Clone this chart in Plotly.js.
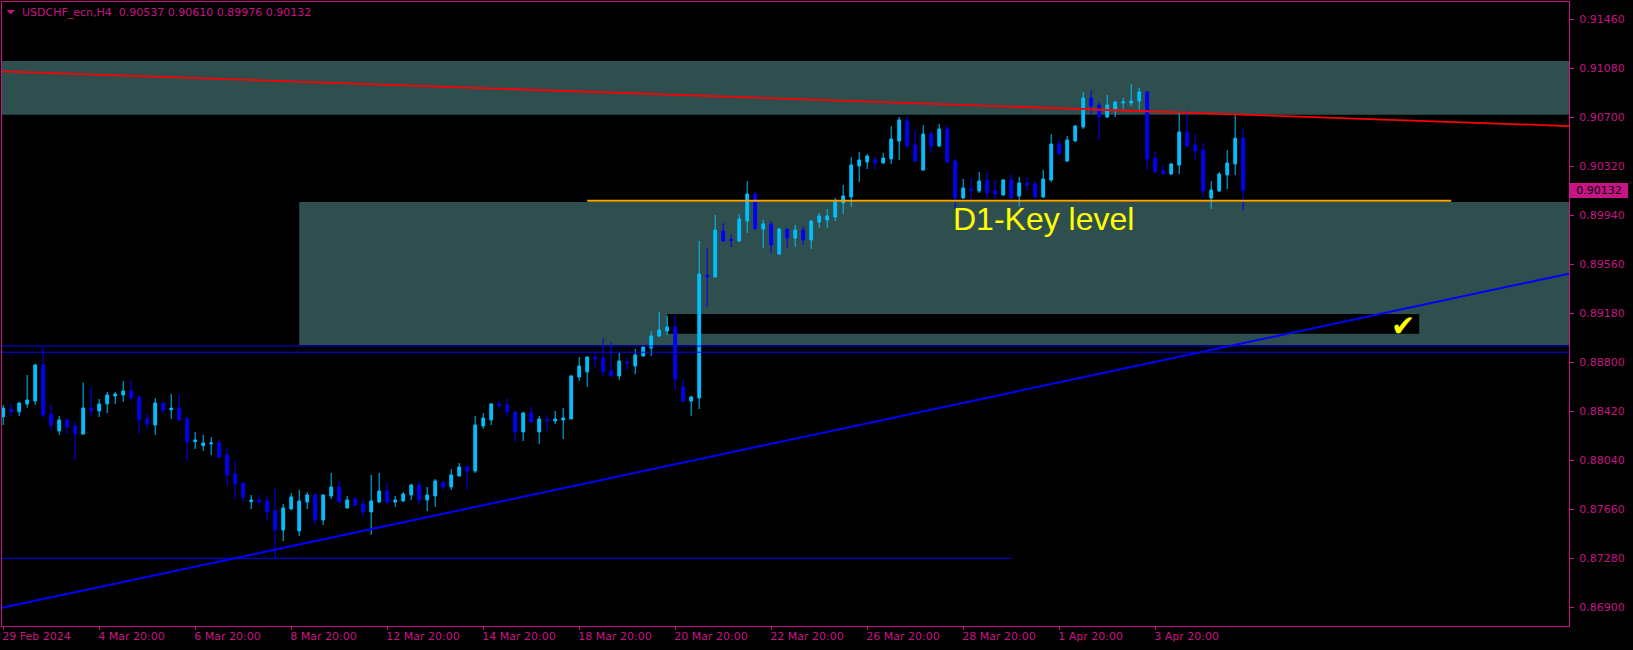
<!DOCTYPE html>
<html>
<head>
<meta charset="utf-8">
<script src="https://cdn.plot.ly/plotly-3.0.1.min.js"></script>
<style>html,body{margin:0;padding:0;background:#000;}#chart{width:1633px;height:650px;}</style>
</head>
<body>
<div id="chart"></div>
<script>
// ---- data (USDCHF_ecn, H4) ----
const dateLabels = ["29 Feb 2024","4 Mar 20:00","6 Mar 20:00","8 Mar 20:00","12 Mar 20:00","14 Mar 20:00","18 Mar 20:00","20 Mar 20:00","22 Mar 20:00","26 Mar 20:00","28 Mar 20:00","1 Apr 20:00","3 Apr 20:00"];
const priceTicks = [0.86900,0.87280,0.87660,0.88040,0.88420,0.88800,0.89180,0.89560,0.89940,0.90320,0.90700,0.91080,0.91460];

const open = [0.88378,0.88436,0.88417,0.88477,0.88500,0.88779,0.88399,0.88268,0.88353,0.88306,
0.88244,0.88446,0.88423,0.88477,0.88539,0.88547,0.88578,0.88531,0.88361,0.88314,
0.88485,0.88433,0.88446,0.88361,0.88185,0.88154,0.88169,0.88175,0.88082,0.87934,
0.87865,0.87720,0.87733,0.87725,0.87648,0.87500,0.87663,0.87493,0.87717,0.87772,
0.87578,0.87764,0.87834,0.87671,0.87741,0.87702,0.87640,0.87717,0.87803,0.87717,
0.87725,0.87772,0.87849,0.87733,0.87764,0.87872,0.87834,0.87919,0.87989,0.87958,
0.88306,0.88353,0.88477,0.88469,0.88415,0.88260,0.88407,0.88260,0.88355,0.88345,
0.88353,0.88361,0.88686,0.88725,0.88839,0.88833,0.88733,0.88694,0.88802,0.88771,
0.88849,0.88911,0.89004,0.89043,0.89074,0.88609,0.88500,0.88523,0.89474,0.89461,
0.89818,0.89753,0.89740,0.89895,0.90104,0.89833,0.89872,0.89639,0.89833,0.89763,
0.89825,0.89748,0.89887,0.89903,0.89926,0.90035,0.90081,0.90321,0.90352,0.90368,
0.90345,0.90376,0.90515,0.90670,0.90484,0.90290,0.90569,0.90476,0.90608,0.90360,
0.90073,0.90143,0.90128,0.90213,0.90128,0.90097,0.90213,0.90089,0.90190,0.90182,
0.90081,0.90213,0.90492,0.90360,0.90515,0.90624,0.90848,0.90794,0.90701,0.90763,
0.90810,0.90810,0.90825,0.90895,0.90383,0.90283,0.90259,0.90329,0.90585,0.90484,
0.90445,0.90073,0.90128,0.90252,0.90337,0.90537];

const high = [0.88469,0.88482,0.88490,0.88702,0.88787,0.88921,0.88477,0.88384,0.88366,0.88337,
0.88642,0.88609,0.88516,0.88570,0.88570,0.88655,0.88663,0.88547,0.88407,0.88523,
0.88492,0.88554,0.88554,0.88384,0.88260,0.88237,0.88221,0.88198,0.88136,0.88035,
0.87868,0.87772,0.87772,0.87764,0.87826,0.87702,0.87787,0.87810,0.87793,0.87777,
0.87775,0.87942,0.87880,0.87764,0.87756,0.87733,0.87927,0.87942,0.87865,0.87764,
0.87795,0.87857,0.87880,0.87834,0.87896,0.87875,0.87973,0.88020,0.87996,0.88384,
0.88407,0.88485,0.88500,0.88523,0.88423,0.88415,0.88454,0.88384,0.88392,0.88423,
0.88446,0.88702,0.88841,0.88845,0.88872,0.88988,0.88957,0.88872,0.88833,0.88903,
0.88926,0.89043,0.89190,0.89159,0.89167,0.88671,0.88539,0.89740,0.89686,0.89942,
0.89880,0.89794,0.89949,0.90205,0.90120,0.89903,0.89895,0.89841,0.89836,0.89864,
0.89856,0.89903,0.89957,0.89988,0.90073,0.90174,0.90391,0.90430,0.90414,0.90391,
0.90422,0.90631,0.90701,0.90709,0.90600,0.90639,0.90593,0.90647,0.90639,0.90376,
0.90221,0.90228,0.90275,0.90275,0.90213,0.90221,0.90259,0.90236,0.90236,0.90205,
0.90290,0.90569,0.90531,0.90554,0.90639,0.90895,0.90910,0.90817,0.90872,0.90825,
0.90848,0.90957,0.90926,0.90903,0.90430,0.90329,0.90345,0.90740,0.90748,0.90569,
0.90500,0.90205,0.90275,0.90445,0.90717,0.90610];

const low = [0.88314,0.88384,0.88384,0.88448,0.88469,0.88371,0.88275,0.88237,0.88244,0.88043,
0.88240,0.88384,0.88376,0.88407,0.88477,0.88492,0.88502,0.88244,0.88291,0.88237,
0.88399,0.88361,0.88345,0.88035,0.88128,0.88113,0.88082,0.88058,0.87841,0.87741,
0.87717,0.87663,0.87694,0.87570,0.87281,0.87415,0.87655,0.87454,0.87663,0.87539,
0.87539,0.87741,0.87714,0.87668,0.87686,0.87601,0.87462,0.87710,0.87702,0.87679,
0.87717,0.87733,0.87694,0.87648,0.87679,0.87810,0.87810,0.87916,0.87810,0.87942,
0.88283,0.88314,0.88438,0.88376,0.88182,0.88190,0.88330,0.88167,0.88268,0.88322,
0.88206,0.88358,0.88655,0.88609,0.88764,0.88694,0.88691,0.88663,0.88740,0.88709,
0.88841,0.88849,0.88996,0.89012,0.88585,0.88492,0.88384,0.88438,0.89229,0.89458,
0.89732,0.89694,0.89732,0.89802,0.89830,0.89686,0.89647,0.89632,0.89686,0.89694,
0.89709,0.89678,0.89841,0.89841,0.89895,0.89949,0.90004,0.90197,0.90298,0.90290,
0.90337,0.90337,0.90368,0.90461,0.90352,0.90287,0.90422,0.90469,0.90345,0.89988,
0.90066,0.90058,0.90112,0.90066,0.90066,0.90089,0.90066,0.90011,0.90135,0.90066,
0.90073,0.90197,0.90407,0.90352,0.90507,0.90608,0.90724,0.90523,0.90693,0.90701,
0.90763,0.90786,0.90755,0.90290,0.90272,0.90256,0.90256,0.90259,0.90469,0.90376,
0.90081,0.89988,0.90120,0.90143,0.90252,0.89976];

const close = [0.88444,0.88417,0.88485,0.88508,0.88779,0.88392,0.88314,0.88353,0.88299,0.88247,
0.88446,0.88423,0.88477,0.88547,0.88554,0.88578,0.88523,0.88353,0.88322,0.88485,
0.88430,0.88444,0.88353,0.88182,0.88198,0.88175,0.88175,0.88066,0.87927,0.87857,
0.87756,0.87733,0.87720,0.87640,0.87500,0.87671,0.87756,0.87725,0.87772,0.87578,
0.87772,0.87834,0.87717,0.87733,0.87694,0.87640,0.87725,0.87803,0.87717,0.87733,
0.87779,0.87849,0.87733,0.87772,0.87880,0.87834,0.87927,0.87989,0.87958,0.88314,
0.88368,0.88477,0.88464,0.88417,0.88260,0.88407,0.88337,0.88361,0.88347,0.88361,
0.88368,0.88694,0.88771,0.88841,0.88826,0.88725,0.88694,0.88810,0.88795,0.88857,
0.88919,0.89004,0.89050,0.89074,0.88671,0.88500,0.88531,0.89484,0.89463,0.89825,
0.89740,0.89745,0.89911,0.90104,0.89833,0.89872,0.89709,0.89833,0.89763,0.89825,
0.89748,0.89895,0.89934,0.89934,0.90042,0.90089,0.90329,0.90368,0.90399,0.90345,
0.90383,0.90531,0.90678,0.90476,0.90360,0.90569,0.90476,0.90608,0.90352,0.90073,
0.90151,0.90130,0.90205,0.90112,0.90104,0.90213,0.90073,0.90190,0.90174,0.90081,
0.90221,0.90492,0.90414,0.90523,0.90631,0.90848,0.90786,0.90701,0.90794,0.90817,
0.90817,0.90825,0.90895,0.90376,0.90275,0.90259,0.90337,0.90585,0.90476,0.90438,
0.90128,0.90135,0.90259,0.90345,0.90537,0.90132];

// drawn objects (price levels)
const supplyZone = [0.91135, 0.90718];
const d1Zone = [0.90042, 0.88934];
const d1Gap = [0.89174, 0.89022];
const blueLevels = [0.88926, 0.88878];
const lowLevel = 0.87281;
const trendLine = [0.86897, 0.89487];
const redLine = [0.91055, 0.90631];
const keyLevel = 0.90052;
const lastPrice = 0.90132;
const titleText = "USDCHF_ecn,H4\u00a0\u00a00.90537 0.90610 0.89976 0.90132";

// ---- drawing ----
const MAG = '#C71585';
const bars = open.map((_, i) => i);
const tickPos = dateLabels.map((_, i) => i * 12);

const trace = {
  type: 'candlestick', x: bars, open: open, high: high, low: low, close: close,
  increasing: {line: {color: '#00BFFF', width: 1}, fillcolor: '#00BFFF'},
  decreasing: {line: {color: '#0000FF', width: 1}, fillcolor: '#0000FF'},
  whiskerwidth: 0, hoverinfo: 'skip', showlegend: false
};

const shapes = [
  {type: 'rect', layer: 'below', xref: 'paper', yref: 'y', x0: 0, x1: 1, y0: supplyZone[1], y1: supplyZone[0], fillcolor: '#2F4F4F', line: {width: 0}},
  {type: 'rect', layer: 'below', xref: 'x', yref: 'y', x0: 37, x1: 196, y0: d1Zone[1], y1: d1Zone[0], fillcolor: '#2F4F4F', line: {width: 0}},
  {type: 'rect', layer: 'below', xref: 'x', yref: 'y', x0: 83, x1: 177, y0: d1Gap[1], y1: d1Gap[0], fillcolor: '#000000', line: {width: 0}},
  {type: 'line', xref: 'paper', yref: 'y', x0: 0, x1: 1, y0: redLine[0], y1: redLine[1], line: {color: '#FF0000', width: 1.8}},
  {type: 'line', xref: 'paper', yref: 'y', x0: 0, x1: 1, y0: blueLevels[0], y1: blueLevels[0], line: {color: '#0000FF', width: 1}},
  {type: 'line', xref: 'paper', yref: 'y', x0: 0, x1: 1, y0: blueLevels[1], y1: blueLevels[1], line: {color: '#0000FF', width: 1}},
  {type: 'line', xref: 'x', yref: 'y', x0: -0.15, x1: 126, y0: lowLevel, y1: lowLevel, line: {color: '#0000FF', width: 1}},
  {type: 'line', xref: 'paper', yref: 'y', x0: 0, x1: 1, y0: trendLine[0], y1: trendLine[1], line: {color: '#0000FF', width: 2}},
  {type: 'line', xref: 'x', yref: 'y', x0: 73, x1: 181, y0: keyLevel, y1: keyLevel, line: {color: '#FFA500', width: 2}},
  {type: 'path', xref: 'paper', yref: 'paper', xsizemode: 'pixel', ysizemode: 'pixel', xanchor: 0, yanchor: 1,
   path: 'M4.7,-8 L13,-8 L8.85,-12.3 Z', fillcolor: MAG, line: {width: 0}}
];

const annotations = [
  {xref: 'paper', yref: 'paper', x: 0, y: 0.98253, xanchor: 'left', yanchor: 'middle', xshift: 17.7,
   text: titleText, showarrow: false, font: {family: 'DejaVu Sans', size: 11, color: MAG}},
  {xref: 'x', yref: 'y', x: 118.5, y: 0.89912, xanchor: 'left', yanchor: 'middle',
   text: 'D1-Key level', showarrow: false, font: {family: 'Liberation Sans, Arial', size: 32, color: '#FFFF00'}},
  {xref: 'x', yref: 'y', x: 175, y: 0.89085, xanchor: 'center', yanchor: 'middle',
   text: '\u2714', showarrow: false, font: {family: 'DejaVu Sans', size: 29, color: '#FFFF00'}},
  {xref: 'paper', yref: 'y', x: 1, y: lastPrice, xanchor: 'left', yanchor: 'middle', xshift: 1,
   text: lastPrice.toFixed(5), showarrow: false, width: 54, height: 11, borderpad: 1, borderwidth: 1,
   bgcolor: MAG, bordercolor: MAG, font: {family: 'DejaVu Sans', size: 11, color: '#000000'}}
];

const layout = {
  width: 1633, height: 650,
  margin: {l: 2, r: 64, t: 2, b: 24, pad: 0},
  paper_bgcolor: '#000000', plot_bgcolor: '#000000',
  showlegend: false, boxgap: 0.5,
  xaxis: {
    range: [-0.15, 195.725], tickmode: 'array', tickvals: tickPos, ticktext: dateLabels,
    ticks: 'outside', ticklen: 3, tickcolor: MAG, tickwidth: 1,
    ticklabelposition: 'outside right', ticklabelshift: -2,
    showgrid: false, zeroline: false, showline: true, mirror: true, linecolor: MAG, linewidth: 1,
    tickfont: {family: 'DejaVu Sans', size: 11, color: MAG},
    rangeslider: {visible: false}, fixedrange: true
  },
  yaxis: {
    side: 'right', range: [0.867563, 0.915923], tickmode: 'array', tickvals: priceTicks,
    ticktext: priceTicks.map(v => v.toFixed(5)),
    ticks: 'outside', ticklen: 4, tickcolor: MAG, tickwidth: 1, ticklabelstandoff: 3,
    showgrid: false, zeroline: false, showline: true, mirror: true, linecolor: MAG, linewidth: 1,
    tickfont: {family: 'DejaVu Sans', size: 11, color: MAG}, fixedrange: true
  },
  shapes: shapes, annotations: annotations
};

Plotly.newPlot('chart', [trace], layout, {displayModeBar: false, staticPlot: true});
</script>
</body>
</html>
